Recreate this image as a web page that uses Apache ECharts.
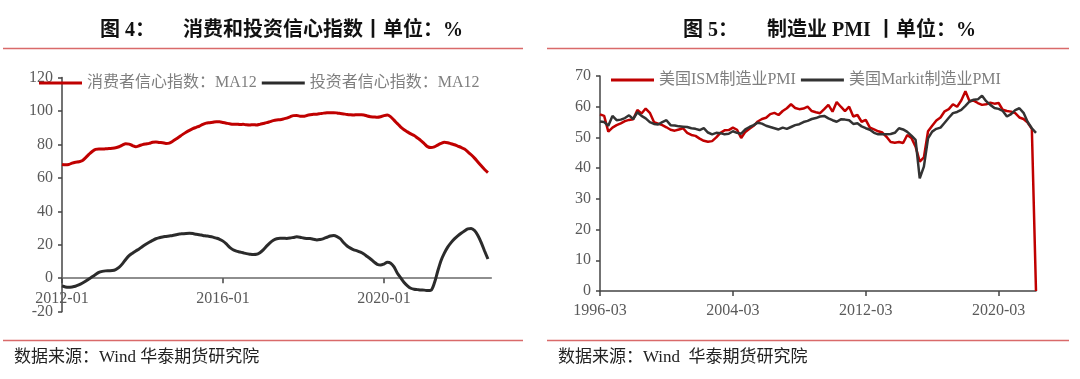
<!DOCTYPE html>
<html>
<head>
<meta charset="utf-8">
<script src="https://cdn.jsdelivr.net/npm/echarts@6/dist/echarts.min.js"></script>
<style>
html,body{margin:0;padding:0;background:#fff;}
#c{width:1080px;height:379px;}
</style>
</head>
<body>
<div id="c"></div>
<script>
// ---------- Figure 4: consumer & investor confidence (monthly, 2012-01 .. 2022-09) ----------
const leftStart = [2012, 1];
const leftMonthCount = 129;
const leftTickLabels = ['2012-01', '2016-01', '2020-01'];
const leftYTicks = [-20, 0, 20, 40, 60, 80, 100, 120];
const consumerMA12 = [
 68.0,67.8,68.0,68.8,69.3,69.6,70.2,72.0,74.0,75.8,77.0,77.2,
 77.2,77.4,77.5,77.7,78.0,78.6,79.6,80.4,80.2,79.3,78.6,79.2,
 79.9,80.3,80.6,81.3,81.5,81.2,81.0,80.6,80.8,81.9,83.2,84.6,
 86.0,87.3,88.4,89.4,90.2,91.0,92.0,92.7,93.0,93.3,93.6,93.5,
 93.1,92.7,92.3,92.0,92.1,91.9,92.0,91.7,91.6,91.8,91.6,92.0,
 92.5,93.0,93.6,94.2,94.6,94.8,95.2,95.7,96.5,97.2,97.3,96.9,
 96.8,97.3,97.7,98.0,98.1,98.4,98.7,98.9,99.0,99.0,98.8,98.5,
 98.2,97.9,97.7,97.6,97.8,97.7,97.6,97.0,96.6,96.4,96.2,96.5,
 97.2,97.6,96.5,94.5,92.4,90.4,88.8,87.5,86.3,85.3,83.8,82.3,
 80.5,78.7,78.1,78.5,79.6,80.6,81.3,81.0,80.4,79.8,79.0,78.2,
 77.2,75.6,73.8,71.8,69.5,67.2,65.0,63.2
];
const investorMA12 = [
 -4.6,-5.2,-5.4,-5.2,-4.8,-4.0,-3.0,-1.8,-0.4,0.9,2.2,3.5,
 4.1,4.4,4.5,4.6,5.2,6.5,8.6,11.2,13.5,15.0,16.3,17.5,
 19.0,20.3,21.5,22.6,23.6,24.2,24.7,25.0,25.3,25.6,26.0,26.4,
 26.6,26.8,26.9,26.7,26.3,26.0,25.6,25.3,25.0,24.6,24.0,23.3,
 22.2,20.5,18.4,17.0,16.2,15.7,15.2,14.7,14.4,14.2,14.3,15.3,
 17.0,19.2,21.2,22.7,23.6,23.9,23.9,23.8,24.0,24.4,24.8,24.5,
 24.0,23.8,23.7,23.3,22.9,23.2,23.7,24.5,25.3,25.5,24.9,23.6,
 21.2,19.3,18.0,17.0,16.4,15.6,14.5,13.0,11.5,9.8,8.3,7.9,
 8.5,9.5,9.0,6.8,3.0,0.2,-2.5,-4.5,-6.0,-6.6,-6.8,-7.0,
 -7.1,-7.4,-7.2,-3.0,4.0,10.5,15.0,18.6,21.3,23.5,25.3,26.9,
 28.3,29.5,29.8,28.5,25.5,21.3,16.3,11.5
];

// ---------- Figure 5: manufacturing PMI (quarterly, 1996-03 .. 2022-06) ----------
const rightStart = [1996, 3];
const rightQuarterCount = 106;
const rightTickLabels = ['1996-03', '2004-03', '2012-03', '2020-03'];
const rightYTicks = [0, 10, 20, 30, 40, 50, 60, 70];
const ismPMI = [
 57.5,57.0,51.9,53.2,54.0,54.6,55.3,55.7,55.9,58.9,
 57.8,59.4,58.0,55.0,54.5,54.0,53.3,52.5,52.2,52.6,
 53.0,51.5,50.8,50.5,49.6,48.9,48.6,48.8,50.0,51.5,
 52.3,52.4,53.2,52.5,49.8,51.8,52.8,53.8,55.2,56.0,
 56.4,57.6,58.0,57.3,58.6,59.5,60.8,59.6,59.2,59.4,
 60.0,58.6,58.2,57.9,59.2,60.6,58.4,61.5,60.0,58.6,
 60.0,56.8,57.3,55.1,55.7,53.2,52.6,52.0,51.6,50.2,
 48.5,48.3,48.5,48.2,50.8,49.8,47.0,42.1,43.5,52.0,
 53.8,55.5,56.5,58.5,59.2,60.8,60.0,62.0,65.0,61.8,
 62.0,61.2,60.6,60.8,61.3,61.0,61.2,59.0,58.6,58.4,
 57.9,56.5,56.0,54.8,52.8,0
];
const markitPMI = [
 55.2,55.0,53.8,57.0,55.6,55.8,56.3,57.2,56.0,58.2,
 57.0,56.2,55.0,54.4,54.2,55.0,55.6,54.0,53.9,53.6,
 53.5,53.4,53.0,52.8,52.4,53.0,51.6,51.0,51.5,51.4,
 51.0,51.2,52.0,51.5,51.2,52.6,53.4,54.0,54.8,54.5,
 53.8,53.4,53.0,52.6,53.2,52.8,53.4,54.0,54.3,55.0,
 55.4,56.0,56.3,56.8,57.0,56.2,55.6,55.1,55.9,55.8,
 55.6,54.4,54.6,53.6,53.0,52.5,51.5,51.0,51.0,51.0,
 51.1,51.5,53.0,52.6,51.8,50.6,49.2,36.7,40.5,49.7,
 51.9,52.8,53.2,54.8,56.4,57.9,58.3,59.0,60.3,61.7,
 62.3,62.4,63.6,61.8,60.6,59.6,59.3,58.6,56.8,57.6,
 58.9,59.5,58.0,55.0,53.0,51.5
];

// category labels
const pad2 = n => (n < 10 ? '0' : '') + n;
const leftMonths = [];
for (let i = 0; i < leftMonthCount; i++) {
  const t = (leftStart[0] * 12 + leftStart[1] - 1) + i;
  leftMonths.push(Math.floor(t / 12) + '-' + pad2(t % 12 + 1));
}
const rightQuarters = [];
for (let i = 0; i < rightQuarterCount; i++) {
  const t = (rightStart[0] * 12 + rightStart[1] - 1) + i * 3;
  rightQuarters.push(Math.floor(t / 12) + '-' + pad2(t % 12 + 1));
}

const FONT = '"Liberation Serif", "Noto Sans CJK SC", serif';
const RED = '#c00000';
const DARK = '#2b2b2b';
const AXIS = '#444';
const LABEL = '#5a5a5a';
const RULE = '#d96a6a';

const chart = echarts.init(document.getElementById('c'), null, {renderer: 'canvas'});

// left grid geometry (used to place the category axis on the zero line)
const LG = {left: 62, top: 77.5, width: 429.3, height: 234.2};
const leftZeroOffset = -LG.height * (0 - leftYTicks[0]) / (leftYTicks[leftYTicks.length - 1] - leftYTicks[0]);

function yAxisCfg(gi, ticks) {
  return {
    type: 'value', gridIndex: gi,
    min: ticks[0], max: ticks[ticks.length - 1], interval: ticks[1] - ticks[0],
    axisLine: {show: true, lineStyle: {color: AXIS, width: 1.5}},
    axisTick: {show: true, length: 4, lineStyle: {color: AXIS, width: 1.5}},
    axisLabel: {color: LABEL, fontSize: 16, fontFamily: FONT, margin: 9},
    splitLine: {show: false}
  };
}
function xAxisCfg(gi, cats, every, lineColor, margin, offset) {
  return {
    type: 'category', gridIndex: gi, data: cats, boundaryGap: false,
    position: 'bottom', offset: offset,
    axisLine: {show: true, onZero: false, lineStyle: {color: lineColor, width: 1.5}},
    axisTick: {show: true, interval: every - 1, length: 5, lineStyle: {color: AXIS, width: 1.5}},
    axisLabel: {interval: every - 1, color: LABEL, fontSize: 16, fontFamily: FONT, margin: margin},
    splitLine: {show: false}
  };
}
function legendCfg(names, left, top) {
  return {
    data: names.map(n => ({name: n, icon: 'rect'})),
    left: left, top: top, padding: 0,
    itemWidth: 43, itemHeight: 3, itemGap: 5,
    textStyle: {color: '#7f7f7f', fontSize: 16, fontFamily: FONT, padding: [0, 0, 0, 0]},
    selectedMode: false
  };
}

const gfx = [];
function titleParts(parts) {
  parts.forEach(p => gfx.push({
    type: 'text', left: p[0], top: 21,
    style: {text: p[1], font: 'bold 20px ' + FONT, fill: '#111'}
  }));
}
titleParts([[100, '图 4：'], [183, '消费和投资信心指数丨单位：%'], [683, '图 5：'], [767, '制造业 PMI 丨单位：%']]);
[[3, 523], [547, 1069]].forEach(r => {
  gfx.push({type: 'line', shape: {x1: r[0], y1: 48.5, x2: r[1], y2: 48.5}, style: {stroke: RULE, lineWidth: 1.5}});
  gfx.push({type: 'line', shape: {x1: r[0], y1: 340.5, x2: r[1], y2: 340.5}, style: {stroke: RULE, lineWidth: 1.5}});
});
gfx.push({type: 'text', left: 14, top: 349, style: {text: '数据来源：Wind 华泰期货研究院', font: '17px ' + FONT, fill: '#222'}});
gfx.push({type: 'text', left: 558, top: 349, style: {text: '数据来源：Wind  华泰期货研究院', font: '17px ' + FONT, fill: '#222'}});

const N1 = '消费者信心指数：MA12', N2 = '投资者信心指数：MA12';
const N3 = '美国ISM制造业PMI', N4 = '美国Markit制造业PMI';

chart.setOption({
  animation: false,
  backgroundColor: '#fff',
  grid: [
    Object.assign({containLabel: false}, LG),
    {left: 600, top: 76, width: 436, height: 215, containLabel: false}
  ],
  legend: [legendCfg([N1, N2], 39, 75), legendCfg([N3, N4], 611, 72)],
  xAxis: [
    xAxisCfg(0, leftMonths, 48, '#6a6a6a', 13, leftZeroOffset),
    xAxisCfg(1, rightQuarters, 32, AXIS, 12, 0)
  ],
  yAxis: [yAxisCfg(0, leftYTicks), yAxisCfg(1, rightYTicks)],
  series: [
    {name: N1, type: 'line', xAxisIndex: 0, yAxisIndex: 0, data: consumerMA12, showSymbol: false, smooth: 0.3,
     lineStyle: {color: RED, width: 3}, itemStyle: {color: RED}, z: 3},
    {name: N2, type: 'line', xAxisIndex: 0, yAxisIndex: 0, data: investorMA12, showSymbol: false, smooth: 0.3,
     lineStyle: {color: DARK, width: 3}, itemStyle: {color: DARK}, z: 3},
    {name: N3, type: 'line', xAxisIndex: 1, yAxisIndex: 1, data: ismPMI, showSymbol: false,
     lineStyle: {color: RED, width: 2.5}, itemStyle: {color: RED}, z: 2},
    {name: N4, type: 'line', xAxisIndex: 1, yAxisIndex: 1, data: markitPMI, showSymbol: false,
     lineStyle: {color: '#333', width: 2.5}, itemStyle: {color: '#333'}, z: 3}
  ],
  graphic: gfx
});
</script>
</body>
</html>
